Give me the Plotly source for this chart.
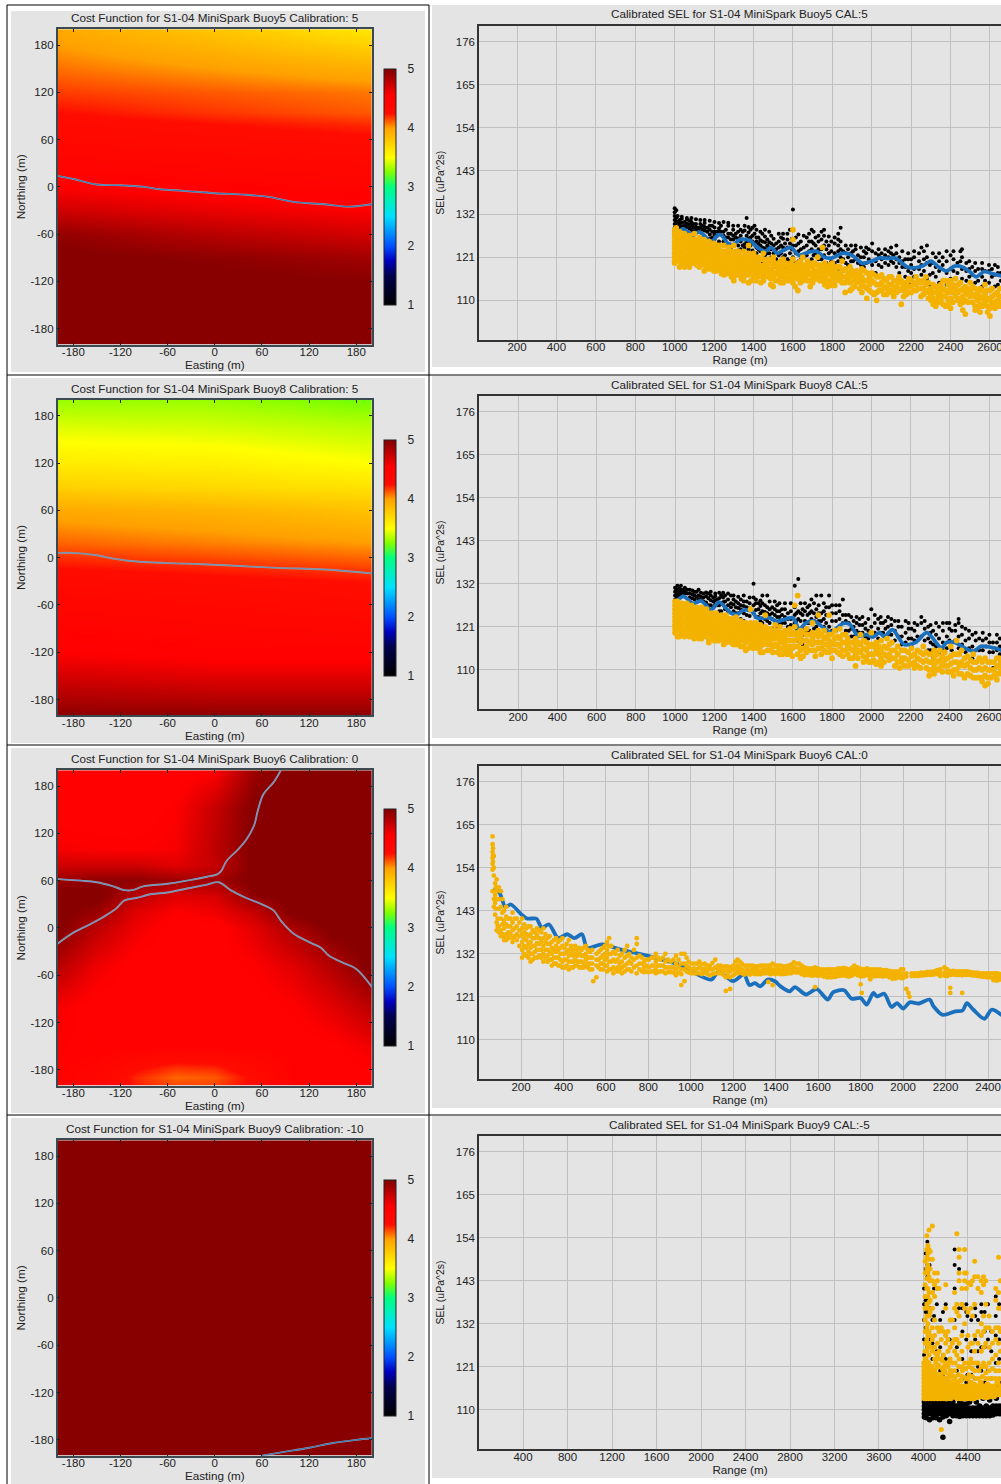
import plotly.graph_objects as go

W, H = 1001, 1484
FONT = "Liberation Sans"

# ---------- cost function surfaces ----------
ticks_map = [-180, -120, -60, 0, 60, 120, 180]
ticks_map_text = ["-180", "-120", "-60", "0", "60", "120", "180"]
ticks_cbar = [1, 2, 3, 4, 5]
cost_titles = ["Cost Function for S1-04 MiniSpark Buoy5 Calibration: 5",
               "Cost Function for S1-04 MiniSpark Buoy8 Calibration: 5",
               "Cost Function for S1-04 MiniSpark Buoy6 Calibration: 0",
               "Cost Function for S1-04 MiniSpark Buoy9 Calibration: -10"]
sel_titles = ["Calibrated SEL for S1-04 MiniSpark Buoy5 CAL:5",
              "Calibrated SEL for S1-04 MiniSpark Buoy8 CAL:5",
              "Calibrated SEL for S1-04 MiniSpark Buoy6 CAL:0",
              "Calibrated SEL for S1-04 MiniSpark Buoy9 CAL:-5"]

map3x = [-200, 0, 200]
map1y = [-200, -120, -90, -60, -30, 0, 60, 80, 95, 120, 150, 200]
map1z = [[5, 5, 5], [5, 5, 4.97], [5, 4.95, 4.88], [4.93, 4.8, 4.7], [4.72, 4.62, 4.55], [4.55, 4.5, 4.45],
         [4.35, 4.3, 4.27], [4.3, 4.25, 4.2], [4.25, 4.18, 4.12], [4.17, 4.12, 4.07], [4.08, 4.0, 3.92], [3.95, 3.8, 3.62]]
map2y = [-200, -180, -150, -120, -60, -30, -10, 20, 60, 90, 120, 170, 200]
map2z = [[4.95, 4.95, 4.95], [4.85, 4.82, 4.82], [4.7, 4.65, 4.65], [4.55, 4.5, 4.5], [4.4, 4.36, 4.3],
         [4.32, 4.28, 4.24], [4.24, 4.2, 4.15], [4.1, 4.05, 4.0], [3.95, 3.9, 3.82], [3.75, 3.7, 3.65],
         [3.6, 3.58, 3.5], [3.42, 3.4, 3.35], [3.3, 3.3, 3.22]]
map3_x = [-200, -150, -100, -50, 0, 50, 100, 150, 200]
map3_y = [-200, -190, -175, -150, -100, -50, 0, 20, 40, 60, 80, 100, 150, 200]
map3_z = [
    [4.5, 4.4, 4.22, 4.15, 4.16, 4.28, 4.5, 4.5, 4.5],
    [4.5, 4.4, 4.2, 4.1, 4.12, 4.28, 4.5, 4.5, 4.5],
    [4.5, 4.45, 4.28, 4.2, 4.22, 4.35, 4.5, 4.5, 4.55],
    [4.55, 4.5, 4.5, 4.5, 4.5, 4.5, 4.5, 4.52, 4.6],
    [4.58, 4.5, 4.5, 4.5, 4.5, 4.5, 4.55, 4.65, 4.8],
    [4.8, 4.6, 4.5, 4.5, 4.5, 4.55, 4.65, 4.82, 5],
    [5, 4.78, 4.6, 4.5, 4.5, 4.65, 4.85, 5, 5],
    [5, 4.9, 4.65, 4.55, 4.6, 4.75, 5, 5, 5],
    [5, 5, 4.78, 4.65, 4.68, 4.95, 5, 5, 5],
    [4.9, 4.95, 4.95, 4.9, 4.88, 5, 5, 5, 5],
    [4.72, 4.72, 4.72, 4.65, 4.75, 5, 5, 5, 5],
    [4.58, 4.56, 4.55, 4.58, 4.78, 5, 5, 5, 5],
    [4.5, 4.5, 4.5, 4.55, 4.75, 5, 5, 5, 5],
    [4.5, 4.5, 4.5, 4.5, 4.55, 4.9, 5, 5, 5]]
map4_x = [-200, 200]
map4_y = [-200, 200]
map4_z = [[5, 5], [5, 5]]

line1x = [-200, -180, -150, -120, -90, -70, -40, 0, 40, 70, 100, 140, 170, 200]
line1y = [14, 10, 3, 2, 0, -3, -5, -8, -10, -13, -19, -22, -25, -22]
line2x = [-200, -180, -150, -130, -110, -60, -20, 20, 80, 140, 200]
line2y = [6, 6, 3, -1, -4, -7, -8, -10, -13, -15, -20]
line3ax = [-200, -170, -150, -130, -115, -105, -90, -60, -30, -10, 3, 8, 15, 30, 40, 50, 55, 62, 75, 84]
line3ay = [62, 60, 58, 53, 48, 48, 53, 56, 61, 65, 68, 72, 85, 100, 112, 130, 150, 170, 185, 200]
line3bx = [-200, -180, -160, -140, -125, -115, -100, -80, -60, -30, -10, 5, 20, 40, 60, 75, 85, 100, 120, 135, 145, 165, 180, 200]
line3by = [-20, -6, 4, 15, 25, 35, 38, 43, 45, 51, 55, 58, 48, 38, 30, 22, 8, -7, -18, -25, -35, -45, -52, -75]
line4x = [60, 90, 120, 150, 180, 200]
line4y = [-200, -195, -190, -184, -180, -178]

# ---------- SEL vs range ----------
sel_ticks = [110, 121, 132, 143, 154, 165, 176]
range_ticks_a = [200, 400, 600, 800, 1000, 1200, 1400, 1600, 1800, 2000, 2200, 2400, 2600]
range_ticks_b = [400, 800, 1200, 1600, 2000, 2400, 2800, 3200, 3600, 4000, 4400]

b5_blue_x = [1000, 1010, 1040, 1070, 1090, 1120, 1140, 1170, 1190, 1220, 1240, 1270, 1300, 1330, 1380, 1420, 1460, 1490, 1520, 1550, 1590, 1630, 1680, 1720, 1760, 1800, 1850, 1900, 1950, 2000, 2040, 2080, 2120, 2180, 2220, 2260, 2300, 2340, 2380, 2420, 2460, 2500, 2530, 2570, 2620, 2660]
b5_blue_y = [125, 126.5, 128.2, 127.3, 126.5, 127.4, 127, 125.5, 125, 126.7, 126.5, 124.5, 124.3, 125.5, 125.3, 123.5, 122.5, 123.5, 122, 122.7, 123.5, 121.5, 122.3, 122.5, 121, 120.8, 122, 121.5, 119.5, 120, 120.8, 120.7, 120.8, 118.5, 118.3, 118.8, 120, 118.5, 117.5, 118.7, 118.5, 117.2, 116, 117.3, 116.7, 116.2]
b5_black = {
 1000:[133.5,132.5,131.5,130.5,129.5,128.5,127.5,126.5], 1008:[133,131,130,129,128,127], 1025:[130.5,129.5,128.5,127.5],
 1050:[130,129,128], 1075:[130.3,129.3,128.3], 1095:[129.5,128.5,127.5], 1120:[128.5,127.8], 1140:[129,128,125], 1165:[128.5,127.5,124],
 1190:[129,127.5,126,123], 1215:[127.5,126.5,124], 1235:[129,127.5,122.5], 1260:[128,126,124.5,122], 1285:[127,125.5,123],
 1310:[127,126,122.5,121], 1335:[128,126.5,125,123,120.5], 1345:[127.5,124], 1365:[131,126.5,125,121.5], 1385:[128,126,124,121,119], 1405:[129,127,124.5,122,120],
 1425:[126,124.5,123,120.5], 1445:[127,125,123.5,120], 1470:[125.5,124,122,119.5], 1490:[126.5,124.5,123,121], 1515:[124.5,123,120.5,118.5],
 1540:[126,124,122,120], 1560:[124.5,123,121.5,118], 1585:[128,124.5,122,120], 1600:[133.2,124,121], 1615:[126,124,122,119.5], 1640:[125,123,120.5,118], 1670:[126,124,121.5,119],
 1695:[128,125,123,120.5], 1715:[126,124,122,117.5], 1745:[127.5,125.5,123,120.5,118], 1770:[125,123,119.5], 1795:[125,122.5,120,118], 1830:[127,125.5,124,122.5,120,118],
 1855:[122.5,120.5,117.5], 1880:[123,121,119], 1905:[122.5,120,117.5], 1930:[121.5,119.5], 1960:[122.5,121,118.5], 1985:[123,120.5,117], 2020:[122,120,117], 2050:[122,120.5,118.5],
 2085:[122.5,121,119], 2110:[121.5,119.5], 2140:[121,119.5,117], 2170:[120.5,118.5,116], 2200:[120.5,119,117,114.5], 2240:[122,120,118,115], 2265:[122.5,120.5,117.5], 2295:[119,116.5,114],
 2325:[121,118.5,116], 2360:[121,119,115], 2400:[121.5,118,115.5], 2435:[119.5,117,114], 2450:[122.5,120], 2480:[119.5,117.5,115], 2510:[118.5,116.5,113], 2540:[118,115,112], 2575:[117.5,115], 2610:[118,116,113,109], 2640:[118.5,117,114], 2655:[117,115]}
b5_black_more = {
 1015:[131.5,130,128.8], 1036:[130.8,129.8,128.9,131.3], 1062:[130.6,129.6,128.7,131], 1085:[130,129,128,131], 1108:[129.5,128.7,127.8,130.7], 1130:[129.5,128.5,130.5], 1152:[129.7,128.7,127.8,126.3,130.5], 1178:[129,128,126.8,125.8,130.3],
 1202:[128.6,127.5,126.8,125.5,130], 1225:[128.4,127.6,125,129.7], 1248:[127.5,126.5,125,130], 1272:[129,127,126,124,129.8], 1297:[128,126.5,125.5,124,129], 1322:[127.5,125.8,124,122.7,129], 1355:[127.8,124.3,123.5,129], 1375:[127.3,125.7,124.5,123,128.7], 1395:[126.5,125,122.7,128.5],
 1415:[126,125,123.5,122,128], 1435:[125.3,124,122.5,127.5], 1458:[126.3,124.8,123.3,121.5,128], 1480:[124.8,123.5,122,127.5], 1502:[125.7,124,122,120], 1528:[125,123.5,121.5,119.5,127], 1550:[125.7,123.5,121,119,127], 1572:[125.5,123.5,120.5,127], 1595:[125.7,123,120],
 1628:[124.5,122.5,120,126.8], 1655:[126.5,123.5,121,119], 1682:[125,122.5,120,127], 1705:[124.5,121.5,119,127.5], 1730:[125,123,120.5,126.5], 1758:[126.5,124,121.5,119,128], 1782:[124,122,119,126.3], 1812:[124.5,122,119.5,126], 1842:[125,123,121,128.5],
 1868:[122,119.5,118,124], 1895:[122,120,118,124], 1918:[123,120.5,124], 1945:[121,119,117.5,123.5], 1972:[122,119.5,123.5], 2002:[122.5,119,116.5,124.5], 2035:[121.5,119,123], 2068:[123,121.5,119.5], 2098:[122,120,123.5], 2125:[122,120.5,118.5,124], 2155:[120,118.5,122.5],
 2185:[120.5,117.5,115.5,122], 2215:[121,118,116,122.5], 2252:[119,116.5,123.5], 2280:[121,119.5,115.5,124], 2310:[119.5,117,122], 2342:[120,117.5,114.5,122], 2380:[120,117,114,122.5], 2415:[120.5,117.5,122.5], 2458:[121,118,115.5,123], 2495:[118,116,120], 2525:[117.5,114.5,119.5], 2560:[118,116,113.5,119.5], 2595:[117.5,114.5,119], 2625:[116.5,113.5,119]}
b5_orange = {
 1000:[128,127,126,125,124,123,122,121,120,119.5], 1008:[128.5,126.5,125.5,124.5,123.5,122.5,121.5,120.5],
 1025:[127.5,126,125,124,123,122,121,120,118.5], 1050:[127,126,125,124,123,122,121,120,118.5], 1075:[126.5,125,124,123,122,121,120,118.5],
 1100:[127,125.5,124.5,123.5,122.5,121.5,120.5,119.5], 1125:[126,125,124,123,122,121,120,118.5], 1150:[125.5,124.5,123.5,122.5,121.5,120.5,119.5,117.5],
 1175:[125,124,123,122,121,120,119,118], 1200:[124.5,123.5,122.5,121.5,120.5,119.5,118.5,117.5], 1225:[124,123,122,121,120,119,118],
 1250:[124,122.5,121.5,120.5,119.5,118.5,117.5,116.5], 1275:[123.5,122,121,120,119,118,117], 1300:[124,122,121,120,119,118,117,116,115],
 1325:[122.5,121.5,120.5,119.5,118.5,117.5,116.5], 1350:[122.5,121,120,119,118,117,116,115], 1375:[124,122,120.5,119.5,118.5,117.5,116.5,114.5],
 1400:[122,120.5,119.5,118.5,117.5,116.5,115.5], 1425:[121,120,119,118,117,116], 1450:[122,120.5,119,118,117,116,115],
 1475:[120.5,119.5,118,117,116], 1500:[121,120,118.5,117,116,113.5], 1525:[119.5,118.5,117.5,116.5,115], 1550:[120.5,119,118,117,116,114.5],
 1575:[119,118,117,116,115], 1600:[128,125.5,120.5,118.5,117,116,114.5], 1625:[119.5,118,117,115.5,112.5], 1650:[121,119,118,117,116,115], 1675:[120,118.5,117.5,116.5,115],
 1700:[119.5,118.5,117,116,114.5], 1725:[121,119,117.5,116.5,115.5], 1750:[123.5,119,118,117,116,115], 1775:[118.5,117.5,116.5,115,113.5], 1800:[119.5,118,116.5,115.5,114],
 1825:[118.5,117,116], 1850:[120,117.5,116,114.5], 1880:[117,115.5], 1900:[117.5,116,113], 1925:[117.5,116,114.5], 1950:[118,116,114,112], 1975:[117,115,113,110.5],
 2000:[117,115,112], 2025:[116,114,112,110], 2050:[116.5,114.5,112.5], 2075:[115,113,111.5], 2100:[116,114,112], 2125:[115,113.5,112], 2150:[115,113,109],
 2175:[114.5,113,111.5], 2200:[115,113.5,112], 2225:[116,114,112.5], 2250:[114.5,113,111], 2275:[116,114,112], 2300:[113,111.5,110], 2325:[113.5,112,110,108.5], 2350:[114,112,110],
 2375:[115,112.5,111,108.5], 2400:[115,113,110.5,108], 2425:[115.5,113,111], 2450:[114.5,112.5,110.5,109], 2475:[113.5,112,110,106.5], 2500:[114.5,112.5,111], 2525:[113,111,108.5,107.5],
 2550:[113,111,109,107], 2575:[114,111.5,109.5], 2600:[112.5,110,108,106], 2625:[111.5,109.5,108], 2650:[113,111,109.5,108.5]}
b5_orange_more = {
 1012:[127,125,123,121], 1038:[126.5,124.5,122.5,120.5,119], 1062:[125.5,123.5,121.5,119.5], 1088:[125.5,123.5,121.5,119.5], 1112:[125,123,121,119], 1138:[124.5,122.5,120.5,119], 1162:[124,122,120,118.5], 1188:[123.5,121.5,119.5,118],
 1212:[123,121,119,117.5], 1238:[122.5,120.5,118.5,116.8], 1262:[122.5,120,118,116.8], 1288:[122.5,120.5,118.5,116], 1312:[122.5,120.5,118.5,116.5], 1338:[121,119,117,115.5], 1362:[121.5,118.5,116.5], 1388:[121,119,117,115], 1412:[121,119,117,115],
 1438:[120.5,118.5,116.5,114.5], 1462:[120,118.5,116.5], 1488:[119.5,117.5,115.5,114], 1512:[119,117,115], 1538:[120,118,116,114.5], 1562:[119.5,117.5,115.5], 1588:[119.5,117.5,115.5], 1612:[119,117.5,115.8,113.5], 1638:[120,118.5,116.5,114.5], 1662:[119,117,115.5],
 1688:[119,117,115,113.5], 1712:[119.5,117.5,115.5], 1738:[119,117,115], 1762:[119.5,117.5,115.5,114], 1788:[119,117,115,113.8], 1812:[118.5,117,115,113.8], 1838:[118.5,116.5,115], 1865:[118,116,114.5,112], 1890:[118.5,116.5,114.5,112.5], 1912:[117,115,113.5],
 1938:[117,115,113], 1962:[117.5,115,113.5], 1988:[116,114,112.5], 2012:[116.5,114.5,111.5], 2038:[116,114,112.5], 2062:[115.5,113.5,111.5], 2088:[116,114,112.5], 2112:[115,113,111], 2138:[116,114.5,112.5], 2162:[114,112.5,111], 2188:[115.5,113.5,112], 2212:[114.5,112.5], 2238:[115,113],
 2262:[115,113,111.5], 2288:[114.5,112.5,110.5], 2312:[114,112,110.5,109], 2338:[113,111,109.5], 2362:[115,113,111,109], 2388:[114,112,110,108.8], 2412:[114,112,109.5], 2438:[114,112,110], 2462:[113,111,109.5,107.5], 2488:[113,111.5,109.5], 2512:[113.5,111.5,109.5],
 2538:[112,110,108], 2562:[112.5,110.5,108.5], 2588:[112.5,110.5,108.5,107], 2612:[113,111,109], 2638:[112,110,108.5]}

b8_blue_x = [1000, 1042, 1092, 1133, 1183, 1225, 1283, 1317, 1350, 1392, 1417, 1483, 1517, 1600, 1633, 1667, 1708, 1758, 1792, 1858, 1892, 1933, 1975, 2008, 2042, 2067, 2108, 2167, 2225, 2283, 2358, 2383, 2425, 2492, 2525, 2558, 2625, 2665]
b8_blue_y = [127.1, 128.8, 127, 127.6, 125.4, 127.3, 124.6, 124.2, 125.3, 125, 123.3, 123.3, 122.4, 123.3, 120.3, 122, 122.5, 120.7, 119.6, 121.9, 121.6, 118.6, 119, 118.4, 119.5, 118.5, 120.3, 116.5, 117, 119.5, 115.6, 117, 117, 115.2, 114.8, 116, 115.6, 115]
b8_black = {
 1000:[131,130,129,128,127.5], 1012:[131.5,130.5,129.5,128.5], 1030:[131.5,130.5,129.5], 1050:[131,130,129.5], 1075:[130.5,129.5,128.5], 1100:[130,129,128], 1120:[130.5,129,128],
 1145:[129.5,128.5,127.5], 1170:[129.5,128.3,126.5], 1195:[128.5,127.5,126], 1215:[128,126.5,123], 1235:[129,127,125], 1255:[129,127.5,125.5], 1285:[129,127,126,122], 1310:[127.5,126,124.5,122],
 1335:[128,126.5,125.5,123], 1365:[127.5,126,124,121], 1400:[132,128.5,126.5,124.5,122], 1425:[127,125.5,123.5,121], 1445:[129,127,125,122], 1470:[129,126,124.5,122.5], 1495:[126,124.5,123,120.5],
 1520:[126.5,125,123.5,121], 1545:[125.5,124,122,119.5], 1575:[124.5,123,121], 1610:[131.5,126,124,122], 1628:[133.2,125,123,117.5], 1650:[125.5,124,121,119,116.5], 1675:[126,124,122,119.5],
 1695:[128,125,123], 1720:[129,125.5,123.5,121], 1745:[129,124.5,122.5], 1770:[126,124,122], 1785:[129,126,124,121], 1820:[126.5,124.5,122.5,120], 1855:[128,124,122,119],
 1885:[124,122,120], 1910:[122.5,121,118.5], 1940:[123,121.5,119.5], 1970:[122,120.5,118.5], 2000:[125.5,121,119], 2035:[123,120.5,118], 2060:[122,119.5], 2085:[123.5,121,119], 2120:[122.5,120,117.5],
 2155:[121,118.5,116.5], 2175:[122.5,119.5,117], 2205:[120.5,118,116], 2235:[121.5,118.5], 2255:[123.5,122,118.5], 2290:[121,118,115], 2315:[120,116.5,113], 2345:[121,118,114.5], 2385:[122,118.5,115.5],
 2410:[120,117,115], 2445:[123,122,118.5,115.5], 2480:[120.5,117.5,114.5], 2515:[119,116,113], 2550:[118,115,113], 2585:[118,116], 2620:[117,114.5,110.5], 2655:[118,116,114]}
b8_black_more = {
 1006:[130.5,129,128], 1022:[130.8,129.8,128.8], 1040:[130.5,129.8], 1062:[130.5,129.5], 1088:[130.3,129.3,128.3], 1110:[130,128.7], 1132:[129.7,128.7,127.8], 1158:[129.8,128.8,127.2], 1182:[129,127.8,126.5,130], 1205:[128.8,127.8,126.8,129.5], 1225:[128.3,126.5,125,129.7], 1245:[128.5,127.3,129.7], 1270:[128,126.5,125,129.5], 1298:[128,126.7,125,123,129],
 1322:[127,125.8,124.5,128.7], 1350:[127.5,126.3,124.5,122.5,129], 1380:[127,125.7,123.8,128.5], 1412:[127,125.3,123.5,128], 1435:[126.3,124.5,122.5,127.7], 1458:[126.5,124.8,123], 1482:[125.5,124,122,127.5], 1508:[125.5,124,122.5,127.5], 1532:[125,123.5,121.5,127], 1560:[125.5,123.5,122,127], 1590:[125,123,121.5,127], 1618:[124.5,122.5,120.5], 1640:[124.5,122.5,119.5,127],
 1662:[125,122.5,120,127], 1685:[124.5,122,120,126.5], 1708:[124.5,122.5,120.5,127], 1732:[124.5,122.5,126.5], 1758:[125,123,121,127], 1800:[124.5,122.5,120,126.5], 1838:[125,123,120.5,126.5], 1870:[124,122.5,120], 1898:[123.5,120.5,118.5], 1925:[122,120,123.5], 1955:[121.5,119.5,123.5], 1985:[123,120,118], 2018:[122,119.5,124], 2048:[122,119.5,123.5], 2072:[120.5,118.5,122.5],
 2102:[121.5,119,123], 2138:[121,118.5,122.5], 2190:[120.5,118,122], 2220:[120,117.5,122], 2272:[120.5,117.5,122.5], 2302:[119.5,117,115,121.5], 2330:[119,116,122], 2365:[120,117,115,122], 2398:[120.5,117.5,122], 2428:[120,117.5,121.5], 2462:[119,116.5,121], 2498:[118,115.5,120], 2532:[117.5,115,119.5], 2568:[117.5,115,119.5], 2602:[117,114.5,119], 2640:[117,115,119]}
b8_orange = {
 1000:[127.5,126.5,125.5,124.5,123.5,122.5,121.5,120.5,119.5], 1012:[127.5,126.5,125.5,124.5,123.5,122.5,121.5,120.5,118.5],
 1035:[127,126,125,124,123,122,121,120,119], 1060:[127,126,125,124,123,122,121,120,119], 1085:[126.5,125.5,124.5,123.5,122.5,121.5,120.5,119.5,118.5], 1110:[126,125,124,123,122,121,120,119],
 1135:[126,125,124,123,122,121,120,119,118], 1160:[125.5,124.5,123.5,122.5,121.5,120.5,119.5,118.5], 1185:[124.5,123.5,122.5,121.5,120.5,119.5,118.5], 1210:[124.5,123.5,122.5,121.5,120.5,119.5,118.5,117.5],
 1235:[124,123,122,121,120,119,118], 1260:[124,123,122,121,120,119,118,117], 1285:[123,122,121,120,119,118,117], 1310:[123.5,122.5,121.5,120.5,119.5,118.5,117.5,116.5], 1335:[122.5,121.5,120.5,119.5,118.5,117.5,116],
 1360:[122,121,120,119,118,117,115], 1385:[125.5,122,121,120,119,118,117,116], 1410:[122,120.5,119.5,118.5,117.5,116.5], 1435:[121.5,120.5,119.5,118.5,117.5,116,114.5], 1460:[124,121,120,119,118,117],
 1485:[120.5,119.5,118.5,117.5,116.5,115], 1510:[121.5,120,119,118,116.5], 1535:[121,119.5,118.5,117,115.5,114], 1560:[120,119,118,116.5,115], 1585:[120.5,119,117.5,116,114.5], 1610:[126.5,121,119,117.5,116],
 1625:[129,119.5,118,116,114], 1640:[120,118.5,117,115,113], 1670:[120.5,119,117.5,116,114.5], 1700:[122,119.5,118,116.5,115], 1730:[124,120,118.5,117,115.5], 1760:[120,118,116.5,115], 1785:[124,119,117.5,116,114.5],
 1815:[120,118,116.5,115], 1840:[120.5,118,116,114], 1870:[119,117,115], 1890:[117,115.5,113], 1920:[118,116,114,111], 1945:[119,116.5,114.5], 1975:[117,115,113], 2000:[119.5,116.5,114,112], 2025:[117,115,111.5],
 2050:[117.5,115,113,111], 2080:[118,115.5,113.5], 2105:[117,115,113], 2135:[116,114,112], 2145:[110.5], 2170:[115,113,111], 2205:[115.5,113.5,111.5], 2235:[115,113,111], 2265:[116,114,112], 2295:[114,112,110,108.5],
 2320:[115,113,111,109], 2350:[115,112.5,110.5], 2375:[114.5,112.5,111], 2405:[116,113.5,111.5,109.5], 2435:[117.5,114,112,110], 2460:[115,112,109], 2490:[113.5,111.5,109], 2520:[114,112,110,108], 2550:[113,110.5,108],
 2580:[113,110.5,108.5,106], 2610:[112,110,108], 2640:[113,111,109,107.5], 2660:[112,110]}
b8_orange_more = {
 1022:[126,124,122,120,118.5], 1048:[126.5,124.5,122.5,120.5,118.5], 1072:[126,124,122,120,118.5], 1098:[125,123,121,119,118], 1122:[125.5,123.5,121.5,119.5,118], 1148:[125,123,121,119], 1172:[124,122,120,118,117], 1198:[124,122,120,118,117.5], 1222:[123,121,119,117.5], 1248:[123.5,121.5,119.5,117.5,116.5],
 1272:[123,121,119,117.5], 1298:[122.5,120.5,118.5,116.5], 1322:[122,120,118,116.5], 1348:[122,120,118,116], 1372:[121.5,119.5,117.5,115.5], 1398:[121,119,117,115.5], 1422:[121,119,117,115.5], 1448:[120.5,118.5,116.5,114.5], 1472:[120,118,116.5,115], 1498:[120,118,116,114.5], 1522:[120,118,116,114.5], 1548:[119.5,117.5,115.5,114], 1572:[119.5,117.5,115.5,114],
 1598:[119.5,117.5,115.5,113.5], 1652:[119.5,117.5,115.5,113.5], 1685:[119,117,115], 1715:[119,117,115,113.5], 1745:[119,117,115.5,114], 1772:[118.5,116.5,114.5], 1800:[119,117,115,113], 1828:[118.5,116.5,114.5], 1855:[119,117,115,113.5], 1880:[118,116,114], 1905:[117,115,113], 1932:[117,115,113], 1960:[117.5,115.5,113.5,112], 1988:[116,114,112],
 2012:[116,114,112.5], 2038:[116,114,112], 2065:[116,114,112], 2092:[116.5,114,112.5], 2120:[115,113,111], 2155:[115,113,112], 2188:[114.5,112.5,111], 2220:[114,112,110.5], 2250:[114.5,112.5,110.5], 2280:[114.5,112.5,110.5], 2308:[114,112,110], 2335:[114,112,110], 2362:[113.5,111.5,109.5], 2390:[113,111,109.5], 2420:[114,112,110,108.5], 2448:[114,111,109],
 2475:[113,111,108], 2505:[112.5,110.5,108.5], 2535:[112,110,108], 2565:[112,110,108,107], 2595:[112,110,108,106.5], 2625:[112,110,108.5], 2652:[113,111,109]}

b6_blue_x = [75, 100, 126, 152, 203, 229, 272, 298, 332, 375, 418, 452, 487, 512, 581, 675, 804, 940, 1096, 1130, 1199, 1250, 1276, 1302, 1327, 1362, 1396, 1422, 1465, 1490, 1542, 1593, 1645, 1671, 1722, 1757, 1800, 1828, 1860, 1877, 1911, 1945, 1971, 2000, 2031, 2074, 2125, 2143, 2186, 2246, 2280, 2300, 2331, 2383, 2417, 2465]
b6_blue_y = [149, 147.5, 144, 144.6, 142, 141, 141, 138.7, 139.5, 136, 137, 136, 137, 133.5, 134.4, 133, 131.4, 129.3, 125.4, 127.5, 125, 126.7, 124, 124.5, 123.7, 125.4, 125, 123.7, 122.4, 123.5, 121.6, 123, 120.3, 122.2, 122.7, 120.5, 120.7, 119, 122, 121.1, 121.8, 118.4, 119.4, 118, 119.6, 119.3, 120.3, 118.6, 116.4, 117.3, 117.5, 119.4, 117.7, 115.4, 117.7, 116.3]
b6_orange = {
 66:[162,160,158,156.5,155,153.5,148], 72:[157,154,152,146,144], 78:[150,147,145,142], 85:[151,148,140,138], 95:[149,146,143.5,139,137.5], 105:[148,144,141,138,136.5], 120:[143,140.5,138.5,136.5,135.5], 140:[141,139,137.5,136],
 160:[142.5,140,138,136,135], 180:[141,139,137,135.5], 205:[141,138.5,137,135,133,131], 225:[138.5,137,135.5,133.5,131.5], 245:[139,137,135,133.5,132,130], 265:[137.5,136,134,132.5,131],
 285:[138,136,134.5,133,131.5], 305:[138.5,136,134,132,130], 325:[136,134.5,133,131.5,130], 345:[135,133.5,132,130.5,129], 365:[136,134,132.5,131,129.5], 385:[135.5,133.5,132,130.5,129], 405:[133.5,132,130.5,128.5],
 425:[135.5,133,131.5,130,128], 445:[133,131.5,130,128.5], 465:[133,131.5,130,129], 485:[133,131.5,130,128.5], 505:[134,132,130.5,129], 525:[132.5,131,129.5,128], 540:[125], 555:[132,130.5,129,126], 575:[133,131,129.5,128],
 595:[134,132,130.5,129], 615:[136,134,132,130,128], 635:[132.5,130.5,128.5,127], 655:[133,130.5,128.5,127.5], 675:[132,130,128.5,127], 700:[134,131.5,129.5,128], 720:[131,129.5,127.5], 745:[136,134.5,131,129,127], 770:[131,129.5,127.5],
 790:[130.5,129,127.5], 815:[131,129,127.5], 835:[132,130,128,127], 855:[130.5,129,127.5], 880:[132,130,128.5,127], 905:[130,128.5,127.3], 930:[131.5,129.5,128,126.5], 955:[132,129.5,128,126.8,124], 970:[132,129.5,128,125], 990:[130,128.5,127.2],
 1015:[129.5,128.3,127], 1040:[130,128.5,127], 1065:[129.5,128.2,127.2], 1090:[129,128,126.5], 1115:[130.5,128.5,127], 1140:[129,128,127], 1165:[128.8,127.7,126,122.5], 1185:[128.6,127.5,126,123], 1200:[129,128,126.5],
 1220:[130.5,129,128,127], 1240:[129.5,128,127], 1265:[129,128,127], 1290:[129,128,127], 1315:[128.8,127.8,126.8], 1340:[129,128,127], 1365:[129,128,127,124.8], 1385:[129.5,128,127,124], 1410:[129,128,127], 1435:[128.8,127.8,126.8],
 1460:[129,128,127], 1485:[129.8,128.5,127.3], 1510:[129.5,128.2,127.2], 1535:[128.5,127.5,126.5], 1560:[128.2,127.3,126.5], 1585:[128.5,127.5,126.5,123.5], 1610:[128,127.3,126.5], 1640:[128,127,126], 1665:[128,127,126], 1695:[128.3,127.3,126.3],
 1720:[128.4,127.5,126.5], 1745:[128,127,126.2], 1770:[129,127.8,126.8], 1800:[128.2,127.2,126.2,124.2], 1805:[122], 1830:[128.3,127.3,126.5], 1845:[125.5], 1860:[128,127,126.2], 1890:[128,127.2,126.3], 1920:[127.8,127,126.3], 1950:[127.5,126.6,125.6],
 1980:[127.5,126.7,126], 2000:[128,126.8,125.8], 2015:[127,126.2,123], 2025:[122], 2030:[121], 2055:[127,126.3], 2085:[127.2,126.4], 2115:[127.4,126.6], 2145:[127.5,126.7], 2175:[128,127,126.3], 2195:[128.5,127.2,126.4], 2222:[127.5,126.6,123.3,122],
 2250:[127.5,126.6], 2278:[127.5,126.5,122], 2305:[127.5,126.6], 2335:[127.2,126.4], 2365:[127,126.2], 2395:[127,126], 2425:[127,126,125.3], 2445:[127,126,125.2], 2462:[126.5,125.6]}
b6_orange_more = {
 68:[159,157,155.5], 82:[149,146,143.5], 90:[146,141,139], 112:[146,142.5,139.5,137], 130:[144,141.5,139.5,137,135.5], 150:[141,139,137], 170:[141,138.5,136.5], 192:[140,138,136.5,134], 215:[139.5,137.5,136,134,132], 235:[139,136.5,134.5,132.5,131],
 255:[138,136,134,132,130.5], 275:[138.5,136.8,134.7,133,131], 295:[137.5,135,133,131], 315:[137,135,133,131], 335:[136.5,134.5,132.5,130.5], 355:[135.5,133,131,129.5], 375:[135,133,131,129], 395:[136,134,132,130,128.5], 415:[134.5,132.5,130.5,129], 435:[134,132,130,128.5],
 455:[134,132,130.5,129], 475:[133.5,132,130,128.5], 495:[133.5,131.5,129.5,128.5], 515:[133,131,129.5,128.5], 535:[133,131,129.5,128], 565:[132.5,130.5,128.5], 585:[133.5,131.5,129.5,128], 605:[135,133,131,129,127.5], 625:[134,132,130,128], 645:[132,130,128], 665:[131.5,129.5,128],
 688:[133,131,129,127.5], 710:[132,130,128], 732:[133,130.5,128.5], 758:[131.5,129.5,128], 780:[130,128.5,127.3], 802:[130.5,128.5,127.3], 825:[131,129,127.5], 845:[131,129,127.3], 868:[131,129,127.5], 892:[130.5,128.5,127.3], 918:[130.5,128.5,127.2], 942:[130.5,128.7,127.2], 980:[131,129,127.5],
 1003:[129.5,128,127], 1028:[129.5,128,127], 1052:[129.3,128,126.8], 1078:[129,127.8,126.8], 1102:[129.7,128,126.8], 1128:[129,128,127], 1152:[128.7,127.7,126.7], 1175:[128.7,127.5,126.5], 1210:[130,128.5,127], 1230:[130,128.5,127.2], 1252:[129,127.7,126.7], 1278:[129,127.7,126.7], 1302:[128.8,127.8,126.8], 1328:[129,127.7,126.8],
 1352:[129,127.8,127], 1375:[129,127.8,126.8], 1398:[129,127.8,126.8], 1422:[129,127.8,126.8], 1448:[128.8,127.8,126.9], 1472:[129.2,128,127], 1498:[129.5,128.2,127.2], 1522:[129,127.8,126.8], 1548:[128.3,127.4,126.6], 1572:[128.3,127.3,126.4], 1598:[128.3,127.3,126.4], 1625:[128,127,126.2], 1652:[128,127,126], 1680:[128,127,126.1], 1708:[128.2,127.3,126.4],
 1732:[128.2,127.2,126.3], 1758:[128.4,127.4,126.4], 1785:[128.5,127.5,126.5], 1815:[128,127,126.3], 1845:[128,127,126.3], 1875:[128,127,126.3], 1905:[127.8,127,126.2], 1935:[127.6,126.8,126], 1965:[127.5,126.6,125.7], 1990:[128,126.8,125.8], 2040:[127,126.3], 2070:[127,126.3], 2100:[127.2,126.5], 2130:[127.4,126.6], 2160:[127.8,126.8], 2208:[128,127,126.3],
 2236:[127.6,126.7], 2264:[127.5,126.6], 2292:[127.5,126.6], 2320:[127.3,126.5], 2350:[127.2,126.3], 2380:[127,126.1], 2410:[127,126], 2436:[127,126,125.2], 2455:[126.8,125.5]}

b9_black_band = {
 4008:[112,111,110,109,108.2], 4025:[112,111,110,109,108], 4055:[112.3,111,110,109,107.5], 4085:[112,111,110,109,108], 4115:[112,111,110,109,108], 4145:[112,111,110,109,107.5],
 4175:[112,111,110,109,108.2,103], 4205:[113,111.5,110.5,109.5,108.5], 4235:[112,111,110,109,107], 4265:[112,111,110,109,108.5], 4295:[113.5,111,110,109,108.5], 4325:[112,111,110,109,108.3],
 4355:[111.5,110.5,109.5,108.5], 4385:[111.5,110.5,109.5,108.5], 4415:[112,110.5,109.5,108.5], 4445:[113,110.5,109.5,108.5], 4475:[112,110.5,109.5,108.5], 4505:[114,111,110,109,108.5], 4535:[113,110.5,109.5,108.5],
 4565:[111,110,109,108.5], 4595:[112.5,110.5,109.5,108.5], 4625:[111,110,109,108.7], 4655:[113,111,110,109], 4685:[111,110,109]}
b9_black = {
 4005:[141,137,133,128,124], 4020:[150,146,138,135,131,127], 4035:[153,147,144,138,135,130,126,122], 4055:[147,143,136,134,128], 4080:[136,133,127,123], 4095:[141,134,126,120],
 4120:[141,137,125,118], 4150:[133,126,120,116], 4175:[135,124,119,115], 4200:[137,129,123,118], 4235:[128,123,117], 4280:[151,147,141,133], 4300:[126,120,115], 4320:[146,143,136,127,121],
 4350:[136,130,123,118], 4385:[137,135,128,117], 4395:[134,119], 4430:[133,125,119], 4465:[136,134,128,118], 4490:[141,133,125,121,116], 4520:[137,135,129,126,120], 4550:[135,130,126,117],
 4580:[137,128,120], 4610:[130,125,118], 4650:[139,134,129,122,116], 4680:[137,128,123,117]}
b9_orange_band = {
 4008:[122,121,120,119,118,117,116,115,114,113], 4020:[123,122,121,120,119,118,117,116,115,114,113], 4045:[122,121,120,119,118,117,116,115,114,113], 4070:[121,120,119,118,117,116,115,114,113],
 4095:[120,119,118,117,116,115,114,113], 4125:[121,119,118,117,116,115,114,113], 4155:[119,118,117,116,115,114,113], 4185:[120,118,117,116,115,114,113], 4215:[118,117,116,115,114,113], 4245:[119,117,116,115,114,113],
 4275:[118,116.5,115.5,114.5,113.5], 4305:[117,116,115,114,113], 4335:[117.5,116,115,114,113], 4365:[116,115,114,113], 4395:[118,116,115,114,113], 4425:[117,116,115,114,113], 4455:[116.5,115,114,113],
 4485:[116,115,114,113.3], 4515:[117,115.5,114.5,113.5], 4545:[116,115,114,113.3], 4575:[116.5,115,114,113.3], 4605:[116,115,114,113.5], 4635:[116,115,114,113.5], 4665:[117,115,114], 4690:[116,115,114]}
b9_orange = {
 4015:[148,145,142,139,136,133,130,127,125], 4030:[154.5,151,149,146,143.5,141,137,134,131,128,125], 4040:[152,150,147,145,141,139,136,132,129,126], 4050:[156,151,148.5,146,144,140,137.5,134,130,127,124], 4060:[150.5,146,143,138,135,129,126],
 4080:[157,148.5,143,140,136,131,128,125], 4100:[145,142,139,133,129,126,123], 4125:[145,143,141,131,127,124], 4140:[141,130,125], 4160:[131,128,123,105], 4180:[130,124,121], 4200:[142,136,129,127,122], 4220:[130,128,125,121], 4240:[133,126,123,120],
 4260:[133,127,122], 4280:[140,136,131,128,125,120], 4300:[155,137,135,128,124], 4320:[151,149,145,143,134,127,123], 4345:[141,137,129,125,121], 4370:[151,145,143,136,132,122], 4385:[145,141], 4400:[142.5,135,129,126,122],
 4425:[142,136,127,123], 4440:[143,134,127,122], 4460:[148,144,137,129,125,120], 4490:[144,141,130,127,122], 4520:[143,140,132,129,125,121], 4540:[144,142,134,130,126,122], 4560:[143,137,131,127,121], 4590:[134,131,126,122],
 4620:[130,127,123], 4650:[141,138,131,128,124], 4675:[149,140,136,131,127,122], 4690:[143,136,130,125]}
b9_orange_more = {
 4110:[122,124.5], 4135:[121.5,123], 4170:[120.5,122.5], 4195:[119.5,121], 4230:[119,122], 4255:[118.5,120], 4285:[118.5,122], 4315:[119,121], 4350:[118.5,120], 4380:[118,120.5], 4410:[119,121], 4440:[118.5,120.5], 4470:[118,122],
 4500:[118,120], 4530:[118.5,121], 4560:[118,119.5], 4590:[118,120], 4620:[118,120.5], 4650:[118,120], 4680:[118,120]}

colorscale_stops = [1, 1.5, 1.75, 2, 2.5, 3, 3.25, 3.5, 4, 4.25, 4.55, 4.97, 5]
colorscale_cols = ["#000000", "#00004f", "#0000c0", "#0050ff", "#00e0ff", "#00ff80", "#80ff00", "#ffff00", "#ffa000", "#ff0c00", "#ff0000", "#880000", "#880000"]

MAP_SURF = [(map3x, map1y, map1z), (map3x, map2y, map2z), (map3_x, map3_y, map3_z), (map4_x, map4_y, map4_z)]
MAP_LINES = [[(line1x, line1y)], [(line2x, line2y)], [(line3ax, line3ay), (line3bx, line3by)], [(line4x, line4y)]]
LINE_COL = ["#2f74c0", "#6f8fb5", "#6a8fc8", "#2f74c0"]

# pixel layout: (top, bottom) of each axes
MAP_BOX = [(29.3, 344.5), (400, 715.3), (770.3, 1085.6), (1140.3, 1455.6)]
CB_BOX = [(69, 305), (440, 676), (809, 1046), (1180, 1416)]
SEL_BOX = [(26, 339.5), (396, 709), (766, 1079), (1136, 1449)]
SEL_XR = [(7, 2656), (1, 2661), (2, 2461), (4, 4697)]
LEFT_T_Y = [17, 388, 758, 1128]
RIGHT_T_Y = [14, 384, 754, 1124]
LEFT_GRAY = [(11, 372), (378, 743), (748, 1113), (1118, 1484)]
RIGHT_GRAY = [(5, 367), (376, 738), (746, 1108), (1116, 1478)]


def px(x):
    return x / W


def py(y):
    return 1 - y / H


def flat(*dicts):
    xs, ys = [], []
    for cols in dicts:
        for k, v in cols.items():
            for y in v:
                xs.append(k)
                ys.append(y)
    return xs, ys


fig = go.Figure()
shapes, annos = [], []
layout = {}
cs = [[(s - 1) / 4, c] for s, c in zip(colorscale_stops, colorscale_cols)]
TF = dict(family=FONT, size=11.5, color="#222")
TITLEF = dict(family=FONT, size=11.7, color="#222")
BLUE = dict(color="#1b70bd", width=3.8, shape="spline", smoothing=0.8)

for i in range(4):
    for (a, b) in [(LEFT_GRAY[i], (11, 425)), (RIGHT_GRAY[i], (432, 1001))]:
        shapes.append(dict(type="rect", xref="paper", yref="paper", x0=px(b[0]), x1=px(b[1]), y0=py(a[1]), y1=py(a[0]),
                           fillcolor="#e4e4e4", line_width=0, layer="below"))
    # left: heat map
    n = 2 * i + 1
    sx = "" if n == 1 else str(n)
    x, y, z = MAP_SURF[i]
    fig.add_trace(go.Heatmap(x=x, y=y, z=z, zmin=1, zmax=5, zsmooth="best", colorscale=cs, xaxis="x" + sx, yaxis="y" + sx,
                             hoverinfo="skip",
                             colorbar=dict(x=px(384), xanchor="left", y=py(CB_BOX[i][1]), yanchor="bottom",
                                           len=(CB_BOX[i][1] - CB_BOX[i][0]) / H, lenmode="fraction", thickness=12, thicknessmode="pixels",
                                           xpad=0, ypad=0, tickvals=ticks_cbar, ticks="outside", ticklen=9, tickcolor="rgba(0,0,0,0)",
                                           outlinecolor="#222", outlinewidth=1, tickfont=dict(family=FONT, size=12, color="#222"))))
    for lx, ly in MAP_LINES[i]:
        fig.add_trace(go.Scatter(x=lx, y=ly, mode="lines", line=dict(color="#9a9aa0", width=1.9, shape="spline"), showlegend=False,
                                 xaxis="x" + sx, yaxis="y" + sx, hoverinfo="skip"))
        fig.add_trace(go.Scatter(x=lx, y=ly, mode="lines", line=dict(color=LINE_COL[i], width=1, shape="spline"), showlegend=False,
                                 xaxis="x" + sx, yaxis="y" + sx, hoverinfo="skip"))
    t, b = MAP_BOX[i]
    layout["xaxis" + sx] = dict(domain=[px(57.6), px(372)], range=[-200, 200], tickvals=ticks_map, ticktext=ticks_map_text, anchor="y" + sx, showgrid=False, zeroline=False,
                                ticks="inside", ticklen=3, tickcolor="#222", showline=True, linecolor="#3c4a50", linewidth=1.5, mirror="allticks",
                                tickfont=TF, ticklabelstandoff=-4, title=dict(text="Easting (m)", font=TITLEF, standoff=0))
    layout["yaxis" + sx] = dict(domain=[py(b), py(t)], range=[-200, 200], tickvals=ticks_map, ticktext=ticks_map_text, anchor="x" + sx, showgrid=False, zeroline=False,
                                ticks="inside", ticklen=3, tickcolor="#222", showline=True, linecolor="#3c4a50", linewidth=1.5, mirror="allticks",
                                tickfont=TF, title=dict(text="Northing (m)", font=TITLEF, standoff=2))
    annos.append(dict(text=cost_titles[i], xref="paper", yref="paper", x=px(214.5), y=py(LEFT_T_Y[i]), showarrow=False, font=TITLEF,
                      xanchor="center", yanchor="middle"))

    # right: SEL
    n = 2 * i + 2
    sx = str(n)
    ax = dict(xaxis="x" + sx, yaxis="y" + sx, showlegend=False, hoverinfo="skip")
    BLACK = dict(color="#000000", size=4)
    ORANGE = dict(color="#f4b200", size=5.8)
    if i == 0:
        bx, by = flat(b5_black, b5_black_more); fig.add_trace(go.Scatter(x=bx, y=by, mode="markers", marker=BLACK, **ax))
        fig.add_trace(go.Scatter(x=b5_blue_x, y=b5_blue_y, mode="lines", line=BLUE, **ax))
        ox, oy = flat(b5_orange, b5_orange_more); fig.add_trace(go.Scatter(x=ox, y=oy, mode="markers", marker=ORANGE, **ax))
    elif i == 1:
        bx, by = flat(b8_black, b8_black_more); fig.add_trace(go.Scatter(x=bx, y=by, mode="markers", marker=BLACK, **ax))
        fig.add_trace(go.Scatter(x=b8_blue_x, y=b8_blue_y, mode="lines", line=BLUE, **ax))
        ox, oy = flat(b8_orange, b8_orange_more); fig.add_trace(go.Scatter(x=ox, y=oy, mode="markers", marker=ORANGE, **ax))
    elif i == 2:
        fig.add_trace(go.Scatter(x=b6_blue_x, y=b6_blue_y, mode="lines", line=BLUE, **ax))
        ox, oy = flat(b6_orange, b6_orange_more); fig.add_trace(go.Scatter(x=ox, y=oy, mode="markers", marker=dict(color="#f4b200", size=4.8), **ax))
    else:
        bx, by = flat(b9_black_band); fig.add_trace(go.Scatter(x=bx, y=by, mode="markers", marker=dict(color="#000000", size=5.5), **ax))
        bx, by = flat(b9_black); fig.add_trace(go.Scatter(x=bx, y=by, mode="markers", marker=BLACK, **ax))
        ox, oy = flat(b9_orange_band); fig.add_trace(go.Scatter(x=ox, y=oy, mode="markers", marker=dict(color="#f4b200", size=6), **ax))
        ox, oy = flat(b9_orange, b9_orange_more); fig.add_trace(go.Scatter(x=ox, y=oy, mode="markers", marker=dict(color="#f4b200", size=5), **ax))
    t, b = SEL_BOX[i]
    layout["xaxis" + sx] = dict(domain=[px(479), 1], range=list(SEL_XR[i]), tickvals=range_ticks_b if i == 3 else range_ticks_a, anchor="y" + sx,
                                showgrid=True, gridcolor="#c0c0c0", gridwidth=1.2, zeroline=False, showline=True, linecolor="#333", linewidth=1.5, mirror=True,
                                tickfont=TF, ticklabelstandoff=-4, ticklabeloverflow="allow", title=dict(text="Range (m)", font=TITLEF, standoff=0))
    layout["yaxis" + sx] = dict(domain=[py(b), py(t)], range=[100, 180], tickvals=sel_ticks, anchor="x" + sx,
                                showgrid=True, gridcolor="#c0c0c0", gridwidth=1.2, zeroline=False, showline=True, linecolor="#333", linewidth=1.5,
                                tickfont=TF, title=dict(text="SEL (uPa^2s)", font=dict(family=FONT, size=10.5, color="#222"), standoff=9))
    annos.append(dict(text=sel_titles[i], xref="paper", yref="paper", x=px(739), y=py(RIGHT_T_Y[i]), showarrow=False, font=TITLEF,
                      xanchor="center", yanchor="middle"))

for yy in [375, 745, 1115]:
    shapes.append(dict(type="line", xref="paper", yref="paper", x0=px(7), x1=1, y0=py(yy), y1=py(yy), line=dict(color="#000", width=1), layer="below"))
shapes.append(dict(type="line", xref="paper", yref="paper", x0=px(429), x1=px(429), y0=0, y1=py(5), line=dict(color="#000", width=1), layer="below"))
shapes.append(dict(type="line", xref="paper", yref="paper", x0=px(7), x1=px(7), y0=0, y1=py(5), line=dict(color="#000", width=1), layer="below"))
shapes.append(dict(type="line", xref="paper", yref="paper", x0=px(7), x1=px(429), y0=py(5), y1=py(5), line=dict(color="#000", width=1), layer="below"))

fig.update_layout(width=W, height=H, autosize=False, margin=dict(l=0, r=0, t=0, b=0, autoexpand=False), paper_bgcolor="#ffffff", plot_bgcolor="#e4e4e4",
                  showlegend=False, shapes=shapes, annotations=annos, font=dict(family=FONT), **layout)
fig.write_html("out.html", config=dict(displayModeBar=False), post_script="document.body.style.margin='0';document.body.style.overflow='hidden';")
